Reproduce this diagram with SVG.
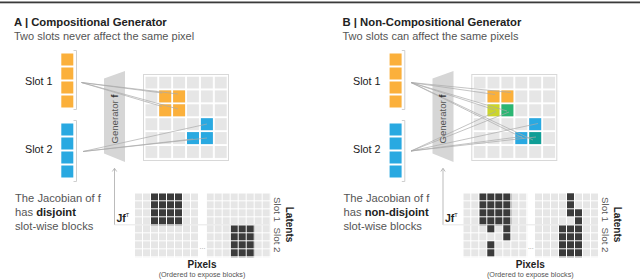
<svg xmlns="http://www.w3.org/2000/svg" xmlns:xlink="http://www.w3.org/1999/xlink" width="640" height="280" viewBox="0 0 640 280">
<style>
text{font-family:"Liberation Sans",Arial,sans-serif}
.title{font-size:11.3px;font-weight:bold;fill:#222}
.sub{font-size:11px;fill:#555}
.slot{font-size:10.8px;fill:#1a1a1a}
.gen{font-size:9.6px;fill:#555}
.para{font-size:11.2px;fill:#555}
.b{font-weight:bold;fill:#222}
.lat{font-size:9.8px;fill:#555}
.latb{font-size:10px;font-weight:bold;fill:#222}
.pix{font-size:10px;font-weight:bold;fill:#222}
.ord{font-size:7.2px;fill:#555}
.dots{font-size:7px;fill:#999}
.or{fill:#FBB03B}.bl{fill:#29A9E1}.yg{fill:#CBD52B}.gr{fill:#2BB673}.te{fill:#0F9E96}
.frame{fill:#fff;stroke:#d8d8d8;stroke-width:1}
.brk{fill:none;stroke:#cfcfcf;stroke-width:1}
.trap{fill:#d6d6d6}
.ln{stroke:#ababab;stroke-width:0.7;fill:none}
.arr{stroke:#aaa;stroke-width:0.8;fill:none}
.sep{stroke:#e0e0e0;stroke-width:0.8}
</style>
<defs>
<pattern id="jl" patternUnits="userSpaceOnUse" width="8" height="8"><rect width="7" height="7" fill="#E6E6E6"/></pattern>
<pattern id="jd" patternUnits="userSpaceOnUse" width="8" height="8"><rect width="7" height="7" fill="#3b3b3b"/></pattern>
<pattern id="gc" patternUnits="userSpaceOnUse" width="13.9" height="13.9"><rect width="12" height="12" fill="#E6E6E6"/></pattern>
<rect id="dc" width="7" height="7" fill="#3b3b3b"/>
</defs>
<rect width="640" height="280" fill="#fff"/>
<rect x="0" y="1.5" width="640" height="1.8" fill="#3a3a3a"/>

<!-- ================= Panel A ================= -->
<g id="panelA-title">
<text class="title" x="14" y="26">A | Compositional Generator</text>
<text class="sub" x="14" y="39.5">Two slots never affect the same pixel</text>
</g>
<g id="A-slot1">
<text class="slot" x="25" y="85">Slot 1</text>
<rect class="or" x="61.3" y="53.5" width="12" height="12"/>
<rect class="or" x="61.3" y="67.5" width="12" height="12"/>
<rect class="or" x="61.3" y="81.5" width="12" height="12"/>
<rect class="or" x="61.3" y="95.5" width="12" height="12"/>
<path class="brk" d="M73.5,50.5H76.5V109.5H73.5"/>
</g>
<g id="A-slot2">
<text class="slot" x="25" y="153">Slot 2</text>
<rect class="bl" x="61.3" y="123.5" width="12" height="12"/>
<rect class="bl" x="61.3" y="137.5" width="12" height="12"/>
<rect class="bl" x="61.3" y="151.5" width="12" height="12"/>
<rect class="bl" x="61.3" y="165.5" width="12" height="12"/>
<path class="brk" d="M73.5,120.5H76.5V181.5H73.5"/>
</g>
<g id="A-generator">
<polygon class="trap" points="104,78.5 125,71 125,162 104,153.5"/>
</g>
<g id="A-pixels">
<rect class="frame" x="143.5" y="74.5" width="85" height="86"/>
<rect x="0" y="0" width="83" height="83" fill="url(#gc)" transform="translate(145.3,76.5)"/>
<rect class="or" x="159.2" y="90.4" width="12" height="12"/>
<rect class="or" x="173.1" y="90.4" width="12" height="12"/>
<rect class="or" x="159.2" y="104.3" width="12" height="12"/>
<rect class="or" x="173.1" y="104.3" width="12" height="12"/>
<rect class="bl" x="200.9" y="118.2" width="12" height="12"/>
<rect class="bl" x="187" y="132.1" width="12" height="12"/>
<rect class="bl" x="200.9" y="132.1" width="12" height="12"/>
</g>
<g id="A-connectors">
<path class="ln" d="M81.5,82.5L162,93M81.5,82.5L178,94M81.5,82.5L162,106.5M81.5,82.5L178,109"/>
<path class="ln" d="M83,151.5L207,124M83,151.5L207,138M83,151.5L193,139"/>
<path class="arr" d="M114.5,224.8V168.5M112.3,171.5L114.5,168.3L116.7,171.5"/>
</g>
<g id="A-generator-label">
<text class="gen" transform="translate(117.5,119) rotate(-90)" text-anchor="middle">Generator <tspan class="b" style="fill:#333">f</tspan></text>
</g>
<g id="A-text">
<text class="para" x="15" y="201.5">The Jacobian of f</text>
<text class="para" x="15" y="215.5">has <tspan class="b">disjoint</tspan></text>
<text class="para" x="15" y="229.5">slot-wise blocks</text>
</g>
<g id="A-jacobian">
<line class="sep" x1="114.5" y1="224.8" x2="270" y2="224.8"/>
<text x="116.5" y="221.5" style="font-size:10.5px;font-weight:bold;fill:#222">Jf<tspan style="font-size:5.5px;font-weight:normal" dy="-5">T</tspan></text>
<rect x="0" y="0" width="64" height="64" fill="url(#jl)" transform="translate(135,193.3)"/>
<rect x="0" y="0" width="64" height="64" fill="url(#jl)" transform="translate(206.7,193.3)"/>
<rect x="0" y="0" width="32" height="32" fill="url(#jd)" transform="translate(151,193.3)"/>
<rect x="0" y="0" width="24" height="32" fill="url(#jd)" transform="translate(230.7,225.3)"/>
<text class="dots" x="202.5" y="249" text-anchor="middle">...</text>
<text class="lat" transform="translate(273.5,209.5) rotate(90)" text-anchor="middle">Slot 1</text>
<text class="lat" transform="translate(273.5,240) rotate(90)" text-anchor="middle">Slot 2</text>
<text class="latb" transform="translate(286,224.5) rotate(90)" text-anchor="middle">Latents</text>
<text class="pix" x="202" y="268" text-anchor="middle">Pixels</text>
<text class="ord" x="202" y="276.5" text-anchor="middle">(Ordered to expose blocks)</text>
</g>

<!-- ================= Panel B ================= -->
<g id="panelB-title">
<text class="title" x="342.5" y="26">B | Non-Compositional Generator</text>
<text class="sub" x="342.5" y="39.5">Two slots can affect the same pixels</text>
</g>
<g id="B-slot1">
<text class="slot" x="353" y="85">Slot 1</text>
<rect class="or" x="389.6" y="53.5" width="12" height="12"/>
<rect class="or" x="389.6" y="67.5" width="12" height="12"/>
<rect class="or" x="389.6" y="81.5" width="12" height="12"/>
<rect class="or" x="389.6" y="95.5" width="12" height="12"/>
<path class="brk" d="M401.8,50.5H404.8V109.5H401.8"/>
</g>
<g id="B-slot2">
<text class="slot" x="353" y="153">Slot 2</text>
<rect class="bl" x="389.6" y="123.5" width="12" height="12"/>
<rect class="bl" x="389.6" y="137.5" width="12" height="12"/>
<rect class="bl" x="389.6" y="151.5" width="12" height="12"/>
<rect class="bl" x="389.6" y="165.5" width="12" height="12"/>
<path class="brk" d="M401.8,120.5H404.8V181.5H401.8"/>
</g>
<g id="B-generator">
<polygon class="trap" points="432.5,78.5 453.5,71 453.5,162 432.5,153.5"/>
</g>
<g id="B-pixels">
<rect class="frame" x="471.8" y="74.5" width="85" height="86"/>
<rect x="0" y="0" width="83" height="83" fill="url(#gc)" transform="translate(473.6,76.5)"/>
<rect class="or" x="487.5" y="90.4" width="12" height="12"/>
<rect class="or" x="501.4" y="90.4" width="12" height="12"/>
<rect class="yg" x="487.5" y="104.3" width="12" height="12"/>
<rect class="gr" x="501.4" y="104.3" width="12" height="12"/>
<rect class="bl" x="529.2" y="118.2" width="12" height="12"/>
<rect class="bl" x="515.3" y="132.1" width="12" height="12"/>
<rect class="te" x="529.2" y="132.1" width="12" height="12"/>
</g>
<g id="B-connectors">
<path class="ln" d="M411,82.5L495,94.5M411,82.5L511,92.5M411,82.5L495,110M411,82.5L507,111M411,82.5L524,138.5M411,82.5L533,140"/>
<path class="ln" d="M411,151L538,123.5M411,151L536,137M411,151L522,136.5M411,151L496,111.5M411,151L509,112"/>
<path class="arr" d="M443,224.8V168.5M440.8,171.5L443,168.3L445.2,171.5"/>
</g>
<g id="B-generator-label">
<text class="gen" transform="translate(446,119) rotate(-90)" text-anchor="middle">Generator <tspan class="b" style="fill:#333">f</tspan></text>
</g>
<g id="B-text">
<text class="para" x="343.5" y="201.5">The Jacobian of f</text>
<text class="para" x="343.5" y="215.5">has <tspan class="b">non-disjoint</tspan></text>
<text class="para" x="343.5" y="229.5">slot-wise blocks</text>
</g>
<g id="B-jacobian">
<line class="sep" x1="443" y1="224.8" x2="598" y2="224.8"/>
<text x="445" y="221.5" style="font-size:10.5px;font-weight:bold;fill:#222">Jf<tspan style="font-size:5.5px;font-weight:normal" dy="-5">T</tspan></text>
<rect x="0" y="0" width="64" height="64" fill="url(#jl)" transform="translate(463.3,193.3)"/>
<rect x="0" y="0" width="64" height="64" fill="url(#jl)" transform="translate(535,193.3)"/>
<rect x="0" y="0" width="32" height="32" fill="url(#jd)" transform="translate(479.3,193.3)"/>
<use xlink:href="#dc" x="487.3" y="225.3"/>
<use xlink:href="#dc" x="503.3" y="225.3"/>
<use xlink:href="#dc" x="503.3" y="233.3"/>
<use xlink:href="#dc" x="487.3" y="241.3"/>
<use xlink:href="#dc" x="487.3" y="249.3"/>
<use xlink:href="#dc" x="567" y="193.3"/>
<use xlink:href="#dc" x="567" y="201.3"/>
<use xlink:href="#dc" x="567" y="209.3"/>
<use xlink:href="#dc" x="575" y="209.3"/>
<use xlink:href="#dc" x="575" y="217.3"/>
<rect x="0" y="0" width="24" height="32" fill="url(#jd)" transform="translate(559,225.3)"/>
<text class="dots" x="530.8" y="249" text-anchor="middle">...</text>
<text class="lat" transform="translate(601.8,209.5) rotate(90)" text-anchor="middle">Slot 1</text>
<text class="lat" transform="translate(601.8,240) rotate(90)" text-anchor="middle">Slot 2</text>
<text class="latb" transform="translate(614.3,224.5) rotate(90)" text-anchor="middle">Latents</text>
<text class="pix" x="530.3" y="268" text-anchor="middle">Pixels</text>
<text class="ord" x="530.3" y="276.5" text-anchor="middle">(Ordered to expose blocks)</text>
</g>
</svg>
